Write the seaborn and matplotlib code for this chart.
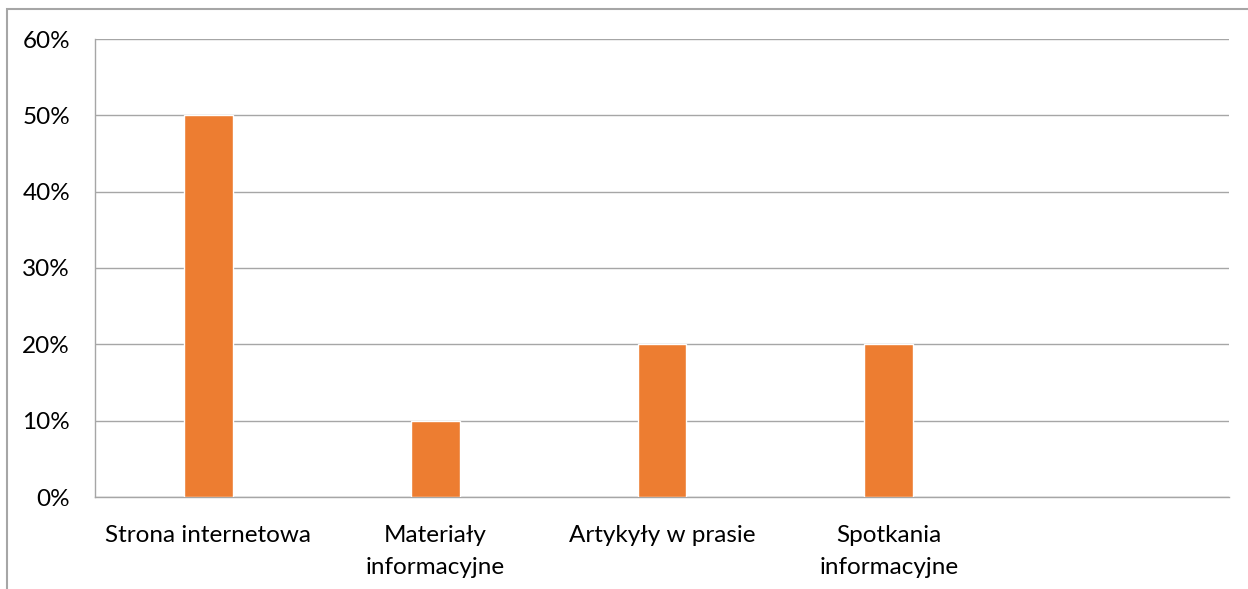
import numpy as np
import pandas as pd
import matplotlib
matplotlib.use("Agg")
import matplotlib.pyplot as plt
from matplotlib.patches import Rectangle
from matplotlib.ticker import PercentFormatter
import seaborn as sns

# data (last category is empty)
categories = ["Strona internetowa", "Materiały\ninformacyjne", "Artykyły w prasie",
              "Spotkania\ninformacyjne", ""]
shares = [0.50, 0.10, 0.20, 0.20, np.nan]

df = pd.DataFrame({"kategoria": categories, "udzial": shares})

sns.set_style("white")
plt.rcParams["font.family"] = ["Lato", "DejaVu Sans"]

fig = plt.figure(figsize=(12.48, 5.89), dpi=100)
ax = fig.add_axes([95 / 1248, 1 - 497 / 589, (1229 - 95) / 1248, (497 - 39) / 589])

sns.barplot(data=df, x="kategoria", y="udzial", color="#ED7D31", width=0.216,
            saturation=1, edgecolor="white", linewidth=1, ax=ax, zorder=3)

ax.set_ylim(0, 0.6)
ax.set_yticks(np.arange(0, 0.61, 0.1))
ax.yaxis.set_major_formatter(PercentFormatter(1.0, decimals=0))
ax.grid(axis="y", color="#a6a6a6", linewidth=1, zorder=0)
ax.set_axisbelow(True)
ax.set_xlabel("")
ax.set_ylabel("")
for side in ["top", "right"]:
    ax.spines[side].set_visible(False)
for side in ["left", "bottom"]:
    ax.spines[side].set_color("#a6a6a6")
    ax.spines[side].set_linewidth(1)
ax.tick_params(axis="both", length=0, labelsize=17.5, colors="black")
ax.tick_params(axis="x", pad=20)
ax.tick_params(axis="y", pad=18)
ax.set_xticks(range(len(categories)))
ax.set_xticklabels(categories, fontsize=17.5, linespacing=1.68)

# outer chart border (cropped at right and bottom)
fig.patches.append(Rectangle((7 / 1248, -0.5), 2, 1.5 - 9 / 589, transform=fig.transFigure,
                             fill=False, edgecolor="#a6a6a6", linewidth=1.5))

fig.savefig("out.png", dpi=100)
